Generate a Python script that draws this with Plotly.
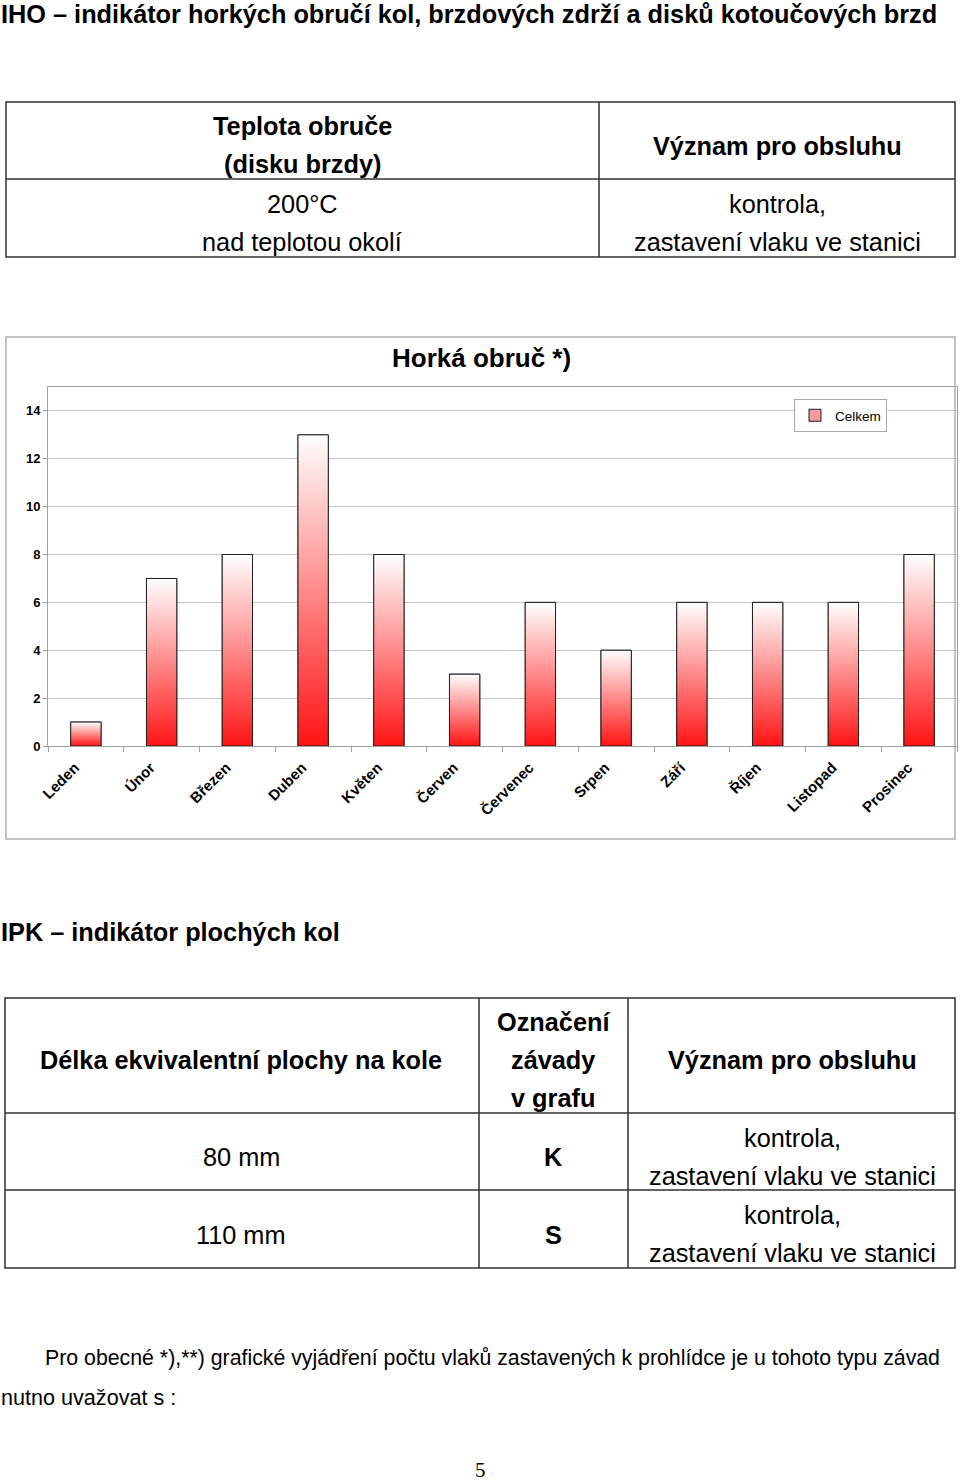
import plotly.graph_objects as go

# ---------------- data ----------------
months = ["Leden", "Únor", "Březen", "Duben", "Květen", "Červen",
          "Červenec", "Srpen", "Září", "Říjen", "Listopad", "Prosinec"]
celkem = [1, 7, 8, 13, 8, 3, 6, 4, 6, 6, 6, 8]
y_ticks = [0, 2, 4, 6, 8, 10, 12, 14]
series_name = "Celkem"
chart_title = "Horká obruč *)"

# ---------------- layout geometry ----------------
W, H = 960, 1481
L, R, T, B = 48, 3, 387, 735
PW, PH = W - L - R, H - T - B
BASE = H - B


def fx(x):
    return (x - L) / PW


def fy(y):
    return (BASE - y) / PH


FONT = "Liberation Sans, Arial, sans-serif"
BAR_W = 0.4
FS = 25.3

fig = go.Figure()

# bar trace (legend + base)
fig.add_trace(go.Bar(
    x=list(range(len(months))), y=celkem, width=BAR_W, name=series_name,
    marker=dict(color="#f39aa0", line=dict(color="#202020", width=1)),
    hoverinfo="skip", showlegend=True,
))

# gradient fill per bar (white top -> red bottom)
for i, v in enumerate(celkem):
    fig.add_trace(go.Scatter(
        x=[i - BAR_W / 2, i + BAR_W / 2, i + BAR_W / 2, i - BAR_W / 2, i - BAR_W / 2],
        y=[0, 0, v, v, 0],
        mode="lines", fill="toself",
        line=dict(color="#202020", width=1),
        fillgradient=dict(type="vertical",
                          colorscale=[[0, "#ff1414"], [1, "#ffffff"]]),
        showlegend=False, hoverinfo="skip",
    ))

shapes = []
annotations = []


def rect(x0, y0, x1, y1, color="#303030", width=1.5):
    shapes.append(dict(type="rect", xref="paper", yref="paper",
                       x0=fx(x0), x1=fx(x1), y0=fy(y0), y1=fy(y1),
                       line=dict(color=color, width=width), layer="above"))


def line(x0, y0, x1, y1, color="#303030", width=1.5):
    shapes.append(dict(type="line", xref="paper", yref="paper",
                       x0=fx(x0), x1=fx(x1), y0=fy(y0), y1=fy(y1),
                       line=dict(color=color, width=width), layer="above"))


def text(t, x, y, size=FS, bold=False, anchor="center", family=FONT):
    annotations.append(dict(text=t, x=fx(x), y=fy(y), xref="paper", yref="paper",
                            xanchor=anchor, yanchor="middle", showarrow=False,
                            font=dict(family=family, size=size, color="black",
                                      weight="bold" if bold else "normal")))


# page title
text("IHO – indikátor horkých obručí kol, brzdových zdrží a disků kotoučových brzd",
     -1, 14, FS, True, "left")

# table 1
rect(6, 102, 955, 257)
line(6, 179, 955, 179)
line(599, 102, 599, 257)
text("Teplota obruče", 302, 126, FS, True)
text("(disku brzdy)", 302, 164, FS, True)
text("Význam pro obsluhu", 777, 146, FS, True)
text("200°C", 302, 204, FS)
text("nad teplotou okolí", 302, 242, FS)
text("kontrola,", 777, 204, FS)
text("zastavení vlaku ve stanici", 777, 242, FS)

# chart frame and title
rect(6, 337, 955, 839, color="#b0b0b0", width=1.5)
text(chart_title, 481, 358, 26, True)

# section 2
text("IPK – indikátor plochých kol", -1, 932, FS, True, "left")

# table 2
rect(5, 998, 955, 1268)
line(5, 1113, 955, 1113)
line(5, 1190, 955, 1190)
line(479, 998, 479, 1268)
line(628, 998, 628, 1268)
text("Délka ekvivalentní plochy na kole", 241, 1060, FS, True)
text("Označení", 553, 1022, FS, True)
text("závady", 553, 1060, FS, True)
text("v grafu", 553, 1098, FS, True)
text("Význam pro obsluhu", 792, 1060, FS, True)
text("80 mm", 241, 1157, FS)
text("K", 553, 1157, FS, True)
text("kontrola,", 792, 1138, FS)
text("zastavení vlaku ve stanici", 792, 1176, FS)
text("110 mm", 241, 1235, FS)
text("S", 553, 1235, FS, True)
text("kontrola,", 792, 1215, FS)
text("zastavení vlaku ve stanici", 792, 1253, FS)

# paragraph
text("Pro obecné *),**) grafické vyjádření počtu vlaků zastavených k prohlídce je u tohoto typu závad",
     43, 1358, 21.3, False, "left")
text("nutno uvažovat s :", -1, 1397, 21.6, False, "left")
text("5", 480, 1470, 21, False, "center", "Liberation Serif, Times New Roman, serif")

fig.update_layout(
    width=W, height=H,
    margin=dict(l=L, r=R, t=T, b=B, autoexpand=False),
    paper_bgcolor="white", plot_bgcolor="white",
    font=dict(family=FONT, color="black"),
    barmode="overlay",
    showlegend=True,
    legend=dict(x=fx(794), y=fy(399), xanchor="left", yanchor="top",
                bgcolor="white", bordercolor="#a8a8a8", borderwidth=1,
                font=dict(size=13.5, family=FONT), itemwidth=30,
                tracegroupgap=0),
    shapes=shapes, annotations=annotations,
    xaxis=dict(range=[-0.5, len(months) - 0.5],
               tickmode="array", tickvals=list(range(len(months))), ticktext=months,
               tickangle=-45, ticks="", showgrid=False, zeroline=False,
               showline=True, linecolor="#a0a0a0", linewidth=1, mirror=True,
               tickfont=dict(size=15, family=FONT, weight="bold"),
               ticklabelshift=-11, ticklabelstandoff=6,
               minor=dict(tickmode="array",
                          tickvals=[i - 0.5 for i in range(len(months) + 1)],
                          ticks="outside", ticklen=5, tickcolor="#a0a0a0",
                          showgrid=False),
               fixedrange=True),
    yaxis=dict(range=[0, 15], tickmode="array", tickvals=y_ticks,
               showgrid=True, gridcolor="#c4c4c4", gridwidth=1, zeroline=False,
               showline=True, linecolor="#a0a0a0", linewidth=1, mirror=True,
               ticks="outside", ticklen=4, tickcolor="#a0a0a0",
               tickfont=dict(size=13, family=FONT, weight="bold"),
               fixedrange=True),
)

fig.write_html("out.html", config={"displayModeBar": False},
               post_script="document.body.style.margin='0px';document.body.style.overflow='hidden';")
